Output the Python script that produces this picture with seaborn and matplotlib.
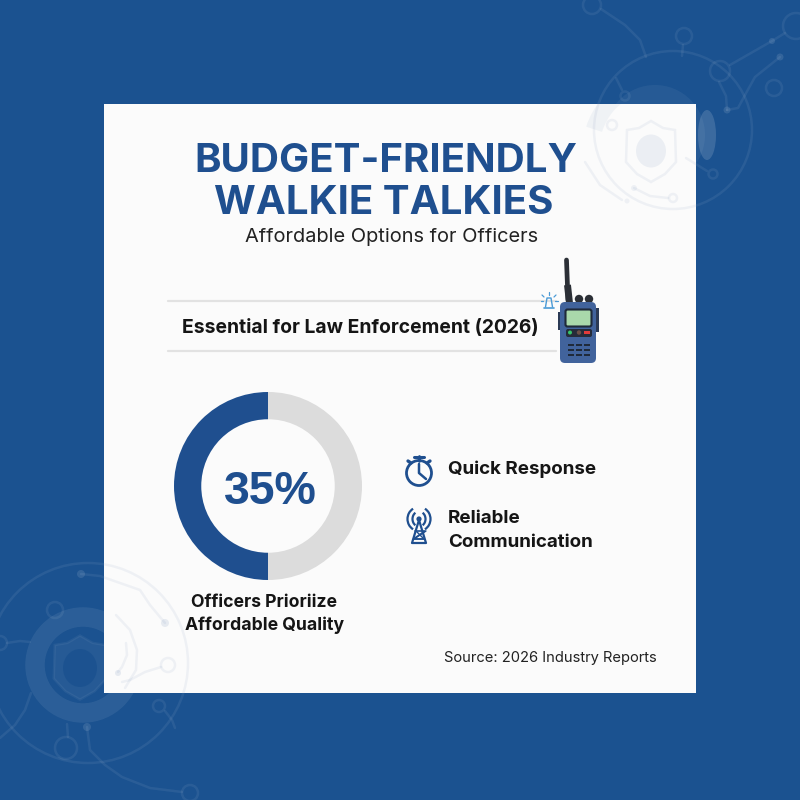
import matplotlib
matplotlib.use("Agg")
import matplotlib.pyplot as plt
import seaborn as sns
from matplotlib.patches import Circle, Ellipse, Rectangle, FancyBboxPatch, Polygon, Arc

NAVY = "#1b5290"
TITLE_BLUE = "#1f4f8f"
GREY_RING = "#dcdcdc"

title_lines = ["BUDGET-FRIENDLY", "WALKIE TALKIES"]
subtitle = "Affordable Options for Officers"
banner = "Essential for Law Enforcement (2026)"
donut_label = "35%"
donut_parts = [50, 50]
donut_colors = [TITLE_BLUE, GREY_RING]
caption_lines = ["Officers Prioriize", "Affordable Quality"]
benefit_1 = "Quick Response"
benefit_2 = ["Reliable", "Communication"]
source = "Source: 2026 Industry Reports"

sns.set_theme(style="white")
plt.rcParams["font.family"] = ["Inter", "Liberation Sans", "DejaVu Sans"]

fig = plt.figure(figsize=(8, 8), dpi=100, facecolor=NAVY)
ax = fig.add_axes([0, 0, 1, 1])
ax.set_xlim(0, 800)
ax.set_ylim(800, 0)
ax.axis("off")


def clipped(p, clip):
    if clip is not None:
        p.set_clip_path(clip)


def ring(x, y, r, col, alpha, lw=1.8, clip=None, z=1):
    p = Circle((x, y), r, fill=False, ec=col, alpha=alpha, lw=lw, zorder=z)
    ax.add_patch(p)
    clipped(p, clip)


def dot(x, y, r, col, alpha, clip=None, z=1):
    p = Circle((x, y), r, fc=col, ec="none", alpha=alpha, zorder=z)
    ax.add_patch(p)
    clipped(p, clip)


def wire(xs, ys, col, alpha, lw=1.8, clip=None, z=1):
    ln, = ax.plot(xs, ys, color=col, alpha=alpha, lw=lw, zorder=z, solid_capstyle="round")
    clipped(ln, clip)


def shield(x, y, s, col, alpha, fill=False, clip=None, z=1):
    pts = [(-24, -20), (-12, -22), (0, -29), (12, -22), (24, -20), (25, 12), (14, 24), (0, 32),
           (-14, 24), (-25, 12)]
    p = Polygon([(x + a * s, y + b * s) for a, b in pts], closed=True, fill=fill,
                fc=col if fill else "none", ec=col, alpha=alpha, lw=1.8, zorder=z)
    ax.add_patch(p)
    clipped(p, clip)


def decor(col, alpha, clip=None, z=1):
    # top right cluster
    ring(673, 130, 79, col, alpha, clip=clip, z=z)
    ring(592, 5, 9, col, alpha, clip=clip, z=z)
    ring(684, 36, 8, col, alpha, clip=clip, z=z)
    ring(720, 71, 10, col, alpha, clip=clip, z=z)
    ring(774, 88, 8, col, alpha, clip=clip, z=z)
    ring(625, 96, 4.5, col, alpha, clip=clip, z=z)
    ring(612, 125, 5, col, alpha, clip=clip, z=z)
    ring(713, 174, 4.5, col, alpha, clip=clip, z=z)
    ring(673, 198, 4, col, alpha, clip=clip, z=z)
    ring(796, 26, 13, col, alpha, clip=clip, z=z)
    wire([601, 625, 640, 646], [9, 25, 40, 57], col, alpha, clip=clip, z=z)
    wire([683, 682], [45, 56], col, alpha, clip=clip, z=z)
    wire([730, 772, 785], [65, 41, 33], col, alpha, clip=clip, z=z)
    wire([719, 726, 727], [82, 96, 110], col, alpha, clip=clip, z=z)
    wire([727, 738, 745, 755, 780], [110, 108, 95, 77, 57], col, alpha, clip=clip, z=z)
    wire([616, 622], [78, 90], col, alpha, clip=clip, z=z)
    wire([585, 600, 622], [162, 185, 200], col, alpha, clip=clip, z=z)
    wire([634, 650, 668], [188, 196, 198], col, alpha, clip=clip, z=z)
    wire([686, 707], [158, 171], col, alpha, clip=clip, z=z)
    dot(772, 41, 3, col, alpha * 1.6, clip=clip, z=z)
    dot(780, 57, 3.5, col, alpha * 1.6, clip=clip, z=z)
    dot(727, 110, 3.5, col, alpha * 1.6, clip=clip, z=z)
    dot(634, 188, 3, col, alpha, clip=clip, z=z)
    dot(627, 201, 2.5, col, alpha, clip=clip, z=z)
    shield(651, 150, 1, col, alpha, clip=clip, z=z)
    e = Ellipse((651, 151), 30, 33, fc=col, ec="none", alpha=alpha * 1.2, zorder=z)
    ax.add_patch(e)
    clipped(e, clip)
    # bottom left cluster
    ring(88, 663, 100, col, alpha, clip=clip, z=z)
    ring(55, 610, 8, col, alpha, clip=clip, z=z)
    ring(66, 748, 11, col, alpha, clip=clip, z=z)
    ring(159, 706, 6, col, alpha, clip=clip, z=z)
    ring(190, 793, 8, col, alpha, clip=clip, z=z)
    ring(168, 665, 7, col, alpha, clip=clip, z=z)
    ring(0, 643, 7, col, alpha, clip=clip, z=z)
    wire([7, 20, 30], [643, 641, 642], col, alpha, clip=clip, z=z)
    wire([68, 67], [737, 724], col, alpha, clip=clip, z=z)
    wire([165, 172, 175], [711, 720, 728], col, alpha, clip=clip, z=z)
    wire([87, 90, 105, 122, 150, 182], [727, 750, 765, 777, 788, 792], col, alpha, clip=clip, z=z)
    wire([0, 15, 25, 31], [738, 725, 710, 693], col, alpha, clip=clip, z=z)
    wire([161, 145, 130, 122], [667, 672, 680, 682], col, alpha, clip=clip, z=z)
    wire([81, 100, 140, 150, 165], [574, 576, 590, 605, 623], col, alpha, clip=clip, z=z)
    wire([116, 130, 137, 136, 125], [615, 630, 650, 670, 688], col, alpha, clip=clip, z=z)
    wire([126, 127, 122, 118], [643, 655, 667, 672], col, alpha, clip=clip, z=z)
    dot(81, 574, 4, col, alpha * 1.6, clip=clip, z=z)
    dot(165, 623, 4, col, alpha * 1.6, clip=clip, z=z)
    dot(87, 727, 4, col, alpha * 1.6, clip=clip, z=z)
    dot(118, 673, 3, col, alpha * 1.6, clip=clip, z=z)


decor("white", 0.065)

# soft blobs behind the badges, only on the blue ground
ax.add_patch(Ellipse((655, 135), 100, 100, fc="white", ec="none", alpha=0.05, zorder=1))
ax.add_patch(Ellipse((707, 135), 18, 50, fc="white", ec="none", alpha=0.14, zorder=1))
ax.add_patch(Circle((83, 665), 48, fill=False, ec="white", alpha=0.075, lw=14, zorder=1))
shield(80, 666, 1.05, "white", 0.05, fill=True)
ax.add_patch(Ellipse((80, 668), 34, 38, fc=NAVY, ec="none", alpha=0.9, zorder=1))

panel = Rectangle((104, 104), 592, 589, fc="#fbfbfb", ec="none", zorder=2)
ax.add_patch(panel)
decor("#1f4f8f", 0.06, clip=panel, z=3)
cap = Arc((651, 150), 120, 130, theta1=200, theta2=300, ec="#1f4f8f", alpha=0.05, lw=12, zorder=3)
ax.add_patch(cap)
cap.set_clip_path(panel)

# title block
ax.text(386, 172, title_lines[0], ha="center", va="baseline", fontsize=29, fontweight="bold",
        color=TITLE_BLUE, zorder=5)
ax.text(384, 214, title_lines[1], ha="center", va="baseline", fontsize=29, fontweight="bold",
        color=TITLE_BLUE, zorder=5)
ax.text(392, 242, subtitle, ha="center", va="baseline", fontsize=14.4, color="#222222", zorder=5)

# banner
ax.plot([168, 556], [301, 301], color="#e2e2e2", lw=1.6, zorder=4)
ax.plot([168, 556], [351, 351], color="#e2e2e2", lw=1.6, zorder=4)
ax.text(360, 333, banner, ha="center", va="baseline", fontsize=13.9, fontweight="bold",
        color="#151515", zorder=5)

# walkie talkie
ax.plot([566.5, 568], [260, 300], color="#2b2f36", lw=3.4, solid_capstyle="round", zorder=5)
ax.plot([567.5, 569.5], [285, 303], color="#2b2f36", lw=5, solid_capstyle="butt", zorder=5)
dot(579, 299, 4.2, "#2b2f36", 1, z=5)
dot(589, 299, 4.2, "#2b2f36", 1, z=5)
ax.add_patch(Rectangle((558, 312), 3, 18, fc="#2b3a55", ec="none", zorder=5))
ax.add_patch(Rectangle((596, 308), 3, 24, fc="#2b3a55", ec="none", zorder=5))
ax.add_patch(FancyBboxPatch((563, 305), 30, 55, boxstyle="round,pad=3,rounding_size=5",
                            fc="#41639c", ec="none", zorder=6))
ax.add_patch(FancyBboxPatch((566, 310), 25, 16, boxstyle="round,pad=0.5,rounding_size=2",
                            fc="#a9d8ab", ec="#1f2a3a", lw=1.5, zorder=7))
ax.add_patch(FancyBboxPatch((566, 329), 26, 8, boxstyle="round,pad=0,rounding_size=2",
                            fc="#252c3a", ec="none", zorder=7))
ax.add_patch(Circle((570, 332.5), 2, fc="#35c46a", ec="none", zorder=8))
ax.add_patch(Circle((579, 332.5), 2.2, fc="#6b5048", ec="none", zorder=8))
ax.add_patch(Rectangle((584, 331), 6, 3, fc="#e23b3b", ec="none", zorder=8))
for gy in (345, 350, 355):
    for gx in (568, 576, 584):
        ax.add_patch(Rectangle((gx, gy - 1), 6, 2, fc="#1f2a3a", ec="none", zorder=7))

# alert bell
ALERT = "#4a9ad6"
ax.plot([545.5, 547, 551, 552.5], [307, 298, 298, 307], color=ALERT, lw=1.0, zorder=5)
ax.plot([544, 554], [307.5, 307.5], color=ALERT, lw=1.2, zorder=5)
for x0, y0, x1, y1 in [(549, 295, 549, 292), (544, 297, 542, 295), (554, 297, 556, 295),
                       (543, 301, 541, 301), (555, 301, 558, 301)]:
    ax.plot([x0, x1], [y0, y1], color=ALERT, lw=0.9, zorder=5)

# donut
donut_ax = fig.add_axes([174 / 800, 1 - 580 / 800, 188 / 800, 188 / 800])
donut_ax.pie(donut_parts, colors=donut_colors, startangle=90, counterclock=True, radius=1.0,
             wedgeprops=dict(width=0.29, edgecolor="none"))
donut_ax.set_xlim(-1, 1)
donut_ax.set_ylim(-1, 1)
donut_ax.set_zorder(5)

txt_ax = fig.add_axes([0, 0, 1, 1], facecolor="none")
txt_ax.set_xlim(0, 800)
txt_ax.set_ylim(800, 0)
txt_ax.axis("off")
txt_ax.set_zorder(6)
txt_ax.text(270, 504, donut_label, ha="center", va="baseline", fontsize=33.5, fontweight="bold",
            color=TITLE_BLUE, family=["Liberation Sans", "DejaVu Sans"])
txt_ax.text(264, 607, caption_lines[0], ha="center", va="baseline", fontsize=12.7, fontweight="bold", color="#151515")
txt_ax.text(265, 630, caption_lines[1], ha="center", va="baseline", fontsize=12.7, fontweight="bold", color="#151515")

# benefits
txt_ax.text(448, 474, benefit_1, ha="left", va="baseline", fontsize=13.5, fontweight="bold", color="#151515")
txt_ax.text(448, 523, benefit_2[0], ha="left", va="baseline", fontsize=13.5, fontweight="bold", color="#151515")
txt_ax.text(448, 547, benefit_2[1], ha="left", va="baseline", fontsize=13.5, fontweight="bold", color="#151515")

# stopwatch icon
txt_ax.add_patch(Circle((419, 473), 12.5, fill=False, ec=TITLE_BLUE, lw=2))
txt_ax.plot([419, 419, 426], [464, 473, 479], color=TITLE_BLUE, lw=1.8)
txt_ax.plot([419, 419], [456, 461], color=TITLE_BLUE, lw=2)
txt_ax.plot([414, 424], [456.5, 456.5], color=TITLE_BLUE, lw=2.2)
txt_ax.plot([408, 411], [461, 463], color=TITLE_BLUE, lw=2.4)
txt_ax.plot([430, 427], [461, 463], color=TITLE_BLUE, lw=2.4)

# tower icon
txt_ax.add_patch(Circle((419, 519), 2.6, fc=TITLE_BLUE, ec="none"))
txt_ax.plot([419, 412, 426, 419], [520, 543, 543, 520], color=TITLE_BLUE, lw=1.6)
txt_ax.plot([415, 425, 413.5, 424], [531, 531, 539, 539], color=TITLE_BLUE, lw=1.2)
txt_ax.plot([416, 424, 414, 426], [531, 539, 539, 531], color=TITLE_BLUE, lw=1.0)
for w, h in [(13, 15), (23, 24)]:
    txt_ax.add_patch(Arc((419, 519), w, h, theta1=120, theta2=240, ec=TITLE_BLUE, lw=1.6))
    txt_ax.add_patch(Arc((419, 519), w, h, theta1=-60, theta2=60, ec=TITLE_BLUE, lw=1.6))

txt_ax.text(657, 662, source, ha="right", va="baseline", fontsize=10.6, color="#222222")

fig.savefig("out.png", dpi=100, facecolor=fig.get_facecolor())
